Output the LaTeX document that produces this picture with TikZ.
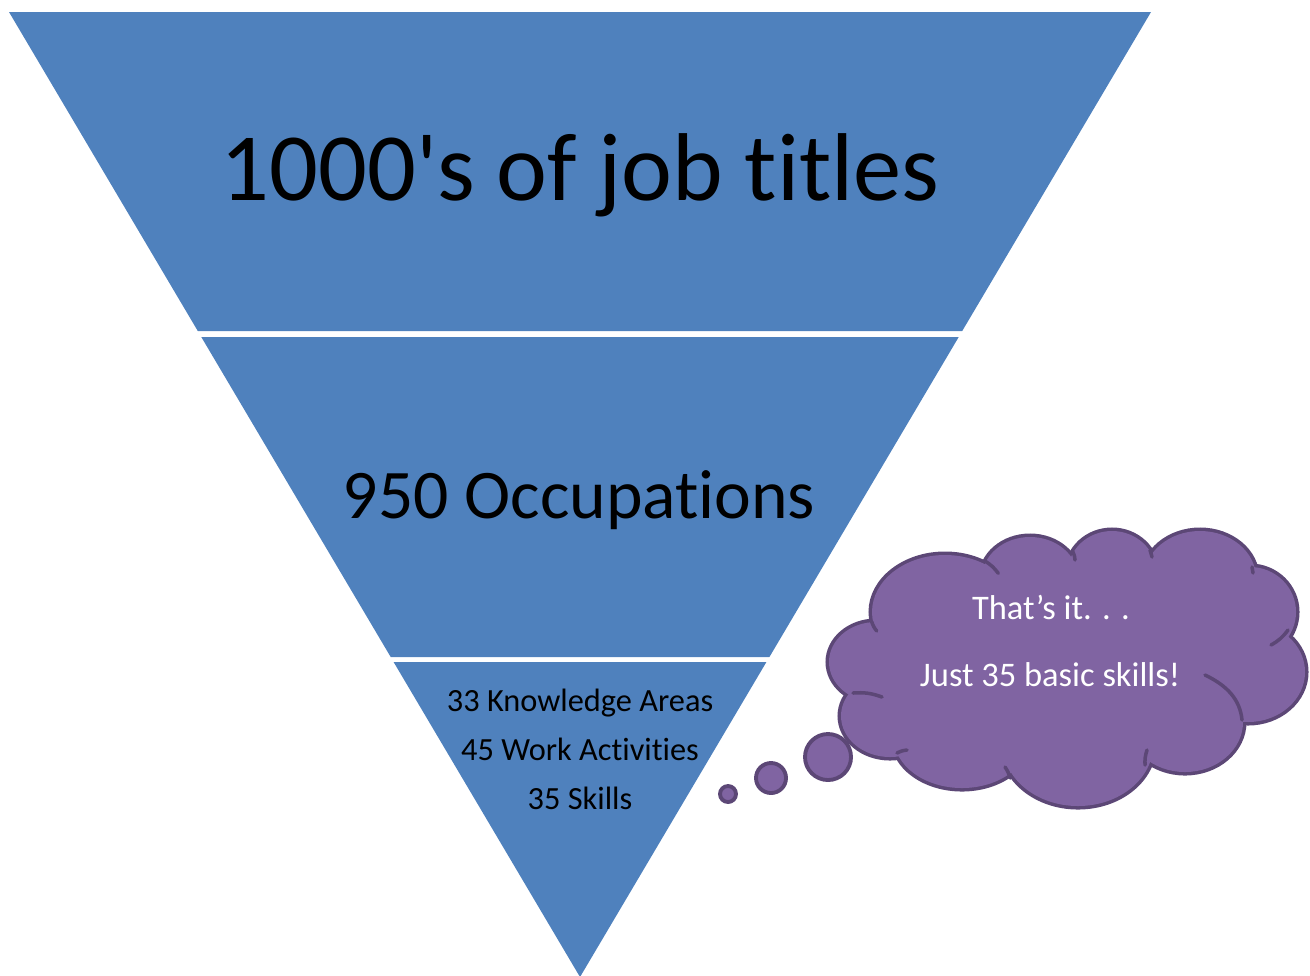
\documentclass[tikz,border=0pt]{standalone}
\usepackage{fontspec}
\setmainfont{Carlito}[Ligatures={TeXOff,CommonOff}]
\begin{document}
\begin{tikzpicture}[x=0.01cm,y=-0.01cm]
  \definecolor{band}{HTML}{4F81BD}
  \definecolor{cloudfill}{HTML}{8064A2}
  \definecolor{cloudline}{HTML}{5C4776}
  \tikzset{
    bandshape/.style={fill=band, draw=none},
    bandtext/.style={anchor=base, inner sep=0pt, text=black},
    cloudtext/.style={anchor=base, inner sep=0pt, text=white, font=\fontsize{9.8}{12}\selectfont},
    puffline/.style={draw=cloudline, line width=1pt, line cap=round},
    bubble/.style={circle, inner sep=0pt, fill=cloudfill, draw=cloudline, line width=1.1pt},
  }
  \useasboundingbox (0,0) rectangle (1310,975);

  % inverted pyramid, three bands separated by thin white gaps
  \fill[bandshape] (9,12) -- (1151,12) -- (962.2,331) -- (197.8,331) -- cycle;
  \fill[bandshape] (201.3,337) -- (958.7,337) -- (769.4,657) -- (390.7,657) -- cycle;
  \fill[bandshape] (393.6,662) -- (766.4,662) -- (580,977) -- cycle;

  \node[bandtext, font=\fontsize{27.4}{32}\selectfont] (titles) at (580,200) {1000's of job titles};
  \node[bandtext, font=\fontsize{19.8}{24}\selectfont] (occ) at (579,518) {950 Occupations};
  \node[bandtext, font=\fontsize{9.2}{11}\selectfont] (know) at (580,711) {33 Knowledge Areas};
  \node[bandtext, font=\fontsize{9.2}{11}\selectfont] (work) at (580,760) {45 Work Activities};
  \node[bandtext, font=\fontsize{9.2}{11}\selectfont] (skills) at (580,809) {35 Skills};

  % thought cloud: outlined puffs, then their fills hide the inner strokes
  \def\puffs{876/662/47/40, 945/612/73/57, 1030/578/48/41, 1112/572/44/41,
    1200/578/56/47, 1250/612/46/45, 1248/672/57/50, 1185/722/58/50,
    1078/745/75/61, 962/738/68/50, 890/716/49/41}
  \foreach \cx/\cy/\rx/\ry in \puffs
    \draw[cloudline, line width=2pt] (\cx,\cy) ellipse [x radius=\rx, y radius=\ry];
  \foreach \cx/\cy/\rx/\ry in \puffs
    \fill[cloudfill] (\cx,\cy) ellipse [x radius=\rx, y radius=\ry];
  \fill[cloudfill] (876,662) -- (945,612) -- (1030,578) -- (1112,572) -- (1200,578)
    -- (1250,612) -- (1248,672) -- (1185,722) -- (1078,745) -- (962,738) -- (890,716) -- cycle;

  % short inner arcs where the puffs fold in
  \draw[puffline] (871.7,621.7) to[bend right=10] (876.7,631);
  \draw[puffline] (985,561) to[bend left=10] (998.3,573.3);
  \draw[puffline] (1073,552) to[bend left=10] (1075,560);
  \draw[puffline] (1150,550) to[bend left=10] (1152,557);
  \draw[puffline] (1252,567) to[bend left=10] (1253,573);
  \draw[puffline] (1288,630) to[bend left=12] (1271,645);
  \draw[puffline] (1205,675) .. controls (1228,686) and (1240,700) .. (1242,720);
  \draw[puffline] (1145,765) to[bend left=10] (1147,750);
  \draw[puffline] (1010,778) to[bend right=10] (1005,767);
  \draw[puffline] (897,753) to[bend left=10] (907,750);
  \draw[puffline] (853,693) to[bend left=12] (882,697);

  \node[cloudtext] (thats) at (1051,619) {That’s it. . .};
  \node[cloudtext] (just) at (1050,686) {Just 35 basic skills!};

  % trail of thought bubbles
  \node[bubble, minimum size=0.46cm] (b1) at (828,757) {};
  \node[bubble, minimum size=0.30cm] (b2) at (771,778) {};
  \node[bubble, minimum size=0.16cm] (b3) at (728,794) {};
\end{tikzpicture}
\end{document}
